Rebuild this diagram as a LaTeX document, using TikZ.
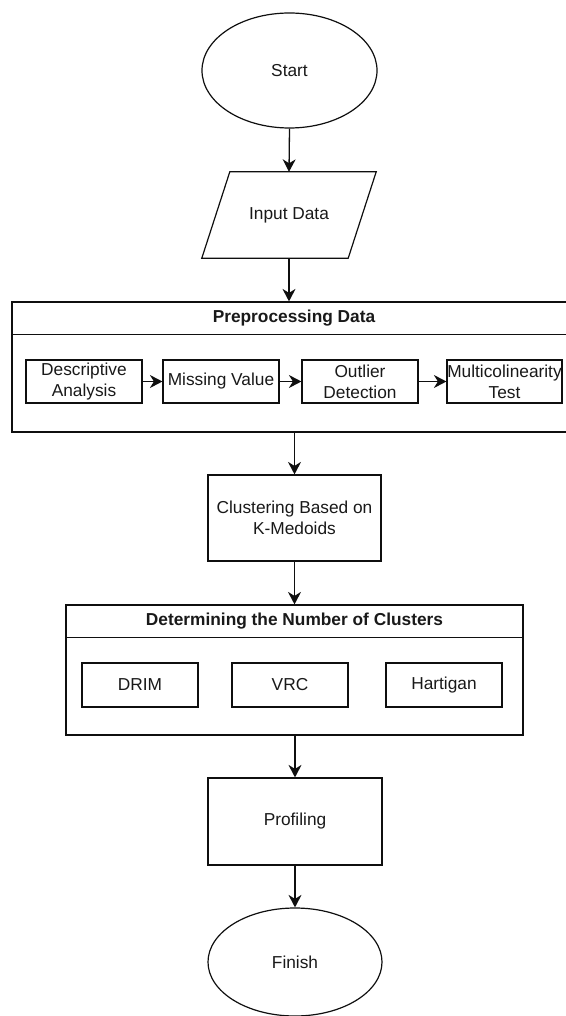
\documentclass[tikz,border=0pt]{standalone}
\usepackage{fontspec}
\setmainfont{Liberation Sans}
\usetikzlibrary{shapes.geometric,arrows.meta}
\definecolor{ink}{RGB}{15,15,15}
\definecolor{txt}{RGB}{25,25,25}
\tikzset{
  base/.style={draw=ink, line width=1.2pt, inner sep=0pt, text=txt,
    font=\fontsize{17.3}{21}\selectfont, align=center},
  boxnode/.style={base, rectangle},
  ovalnode/.style={base, ellipse},
  ghost/.style={inner sep=0pt, text=txt, font=\fontsize{17.3}{21}\selectfont, align=center},
  titletext/.style={inner sep=0pt, text=txt, font=\fontsize{17.3}{21}\selectfont\bfseries},
  conn/.style={draw=ink, line width=1.3pt, -{Stealth[length=12.5pt,width=13pt,inset=4pt]}}
}
\begin{document}
\begin{tikzpicture}[x=1pt,y=-1pt]
\useasboundingbox[fill=white] (0,0) rectangle (565,1016);

% Start
\node[ovalnode, minimum width=175pt, minimum height=115pt] (start) at (289.5,70.5) {Start};

% Input Data (parallelogram)
\node[ghost, minimum width=174pt, minimum height=86pt] (input) at (289,215) {Input Data};
\draw[draw=ink, line width=1.2pt, line join=miter]
  ([xshift=28pt]input.north west) -- (input.north east)
  -- ([xshift=-28pt]input.south east) -- (input.south west) -- cycle;

% Preprocessing container
\node[boxnode, minimum width=566pt, minimum height=130pt] (pre) at (295,367) {};
\draw[draw=ink, line width=1.2pt] ([yshift=-33pt]pre.north west) -- ([yshift=-33pt]pre.north east);
\node[titletext] (pretitle) at (294,318.5) {Preprocessing Data};

\node[boxnode, minimum width=116pt, minimum height=43pt] (desc) at (84,381.5) {Descriptive\\Analysis};
\node[boxnode, minimum width=116pt, minimum height=43pt] (miss) at (221,381.5) {Missing Value};
\node[boxnode, minimum width=116pt, minimum height=43pt] (outl) at (360,381.5) {Outlier\\Detection};
\node[boxnode, minimum width=115pt, minimum height=43pt] (mult) at (504.5,381.5) {Multicolinearity\\Test};

% Clustering
\node[boxnode, minimum width=173pt, minimum height=86pt] (clus) at (294.5,518) {Clustering Based on\\K-Medoids};

% Determining container
\node[boxnode, minimum width=457pt, minimum height=130pt] (det) at (294.5,670) {};
\draw[draw=ink, line width=1.2pt] ([yshift=-33pt]det.north west) -- ([yshift=-33pt]det.north east);
\node[titletext] (dettitle) at (294.5,621.5) {Determining the Number of Clusters};

\node[boxnode, minimum width=116pt, minimum height=44pt] (drim) at (140,685) {DRIM};
\node[boxnode, minimum width=116pt, minimum height=44pt] (vrc) at (290,685) {VRC};
\node[boxnode, minimum width=116pt, minimum height=44pt] (hart) at (444,685) {Hartigan};

% Profiling
\node[boxnode, minimum width=174pt, minimum height=87pt] (prof) at (295,821.5) {Profiling};

% Finish
\node[ovalnode, minimum width=174pt, minimum height=108pt] (fin) at (295,962) {Finish};

% Connectors
\draw[conn] (start.south) -- (input.north);
\draw[conn] (input.south) -- (input.south |- pre.north);
\draw[conn] (desc) -- (miss);
\draw[conn] (miss) -- (outl);
\draw[conn] (outl) -- (mult);
\draw[conn] (clus.north |- pre.south) -- (clus.north);
\draw[conn] (clus.south) -- (clus.south |- det.north);
\draw[conn] (prof.north |- det.south) -- (prof.north);
\draw[conn] (prof.south) -- (fin.north);
\end{tikzpicture}
\end{document}
